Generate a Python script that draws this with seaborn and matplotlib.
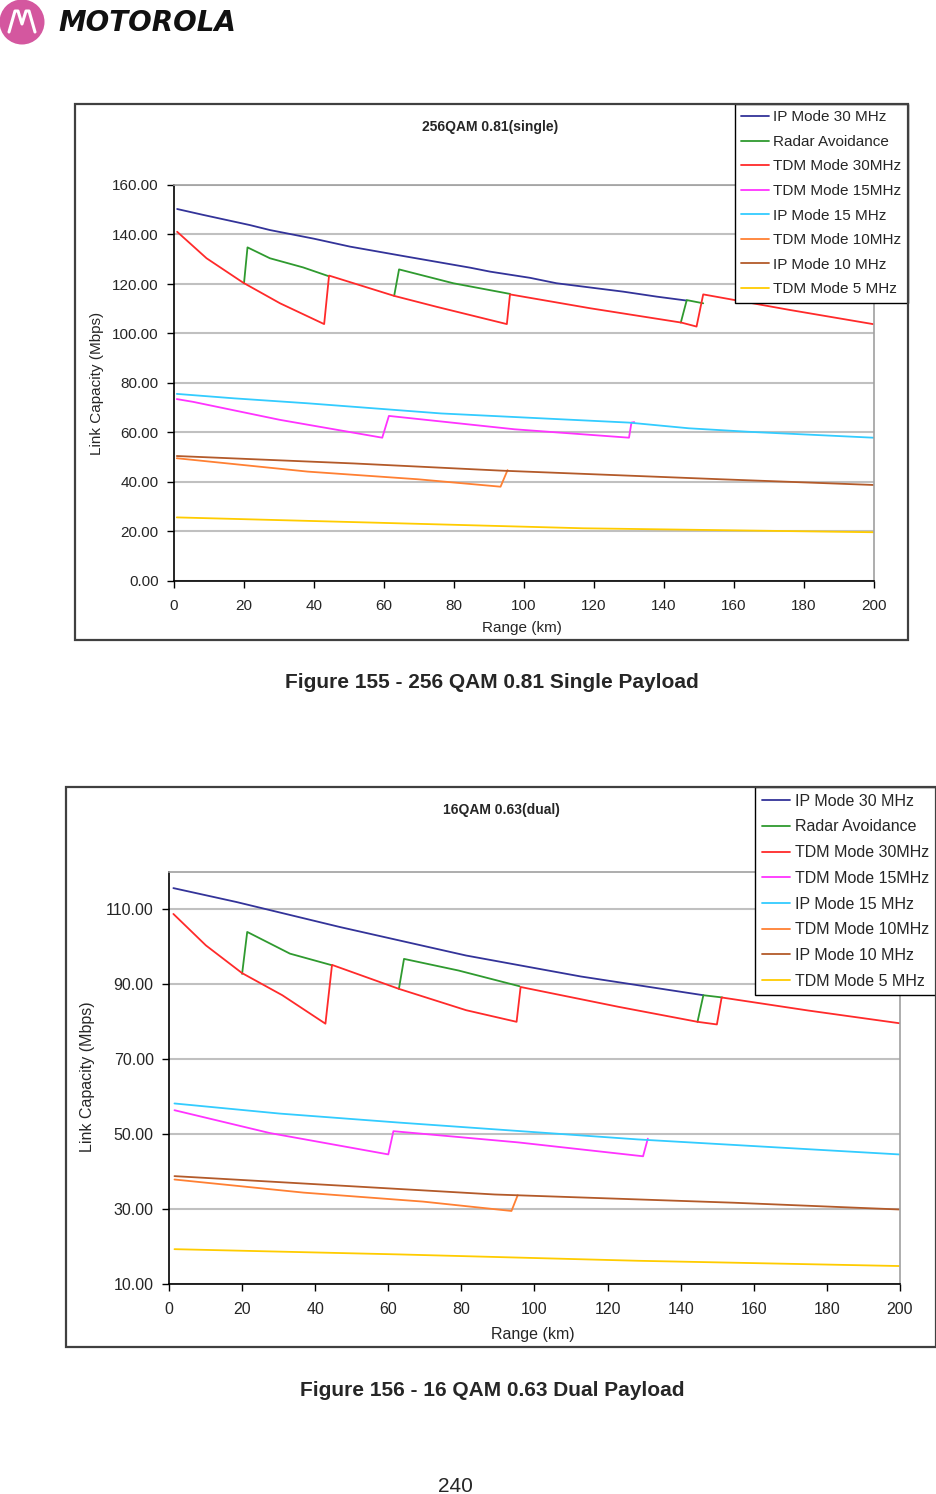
import matplotlib
matplotlib.use("Agg")
import matplotlib.pyplot as plt
import seaborn as sns
from matplotlib.patches import Rectangle, Ellipse
from matplotlib.lines import Line2D


# series names / colours (same order as the legend)
names = ["IP Mode 30 MHz", "Radar Avoidance", "TDM Mode 30MHz", "TDM Mode 15MHz",
         "IP Mode 15 MHz", "TDM Mode 10MHz", "IP Mode 10 MHz", "TDM Mode 5 MHz"]
colors = ["#333399", "#2f9a2f", "#ff2a2a", "#ff33ff",
          "#33ccff", "#ff8033", "#b35a2a", "#ffcc00"]

# ---- Figure 155: 256QAM 0.81 (single) ----
s_ip30_km = [0.9, 8.4, 21.7, 27.4, 40, 50.3, 65.5, 84.6, 90.3, 101.7, 109.3, 128.4, 137.9, 146.5]
s_ip30 = [150.3, 147.9, 143.8, 141.8, 138.3, 135.1, 131.3, 126.6, 125.0, 122.5, 120.3, 116.9, 114.9, 113.3]
s_radar_km = [[20, 21, 27.4, 36.9, 44.1], [62.9, 64.3, 79.8, 96], [144.8, 146.5, 151.2]]
s_radar = [[120.3, 134.8, 130.4, 126.7, 123.2], [115.2, 125.9, 120.3, 116.0], [104.4, 113.5, 112.2]]
s_tdm30_km = [0.9, 9.3, 19.8, 30.3, 42.9, 44.3, 62.9, 75, 95.1, 96, 118.9, 145, 149.3, 151.2, 176, 199.7]
s_tdm30 = [141.1, 130.4, 120.5, 112.2, 103.8, 123.4, 115.2, 110.8, 103.8, 115.8, 110.2, 104.4, 102.8, 115.8, 109.5, 103.8]
s_tdm15_km = [0.8, 5.4, 30.3, 59.5, 61.4, 97.3, 130, 130.7, 131.5]
s_tdm15 = [73.5, 72.4, 65.1, 57.9, 66.7, 61.3, 57.9, 64.0, 64.2]
s_ip15_km = [0.8, 17.2, 38.2, 76.3, 130, 147.1, 164, 199.8]
s_ip15 = [75.6, 73.8, 71.8, 67.7, 64.0, 61.7, 60.3, 57.9]
s_tdm10_km = [0.8, 38.2, 69.7, 93.3, 95.3]
s_tdm10 = [49.6, 44.2, 41.1, 38.1, 44.8]
s_ip10_km = [0.8, 51.3, 93.3, 156.3, 199.8]
s_ip10 = [50.5, 47.5, 44.6, 41.1, 38.8]
s_tdm5_km = [0.8, 56.6, 116.9, 199.8]
s_tdm5 = [25.7, 23.6, 21.3, 19.7]

# ---- Figure 156: 16QAM 0.63 (dual) ----
d_ip30_km = [1.2, 18.4, 46.8, 81.3, 112.7, 146.2]
d_ip30 = [115.7, 112.0, 105.3, 97.7, 92.1, 87.1]
d_radar_km = [[20, 21.4, 33.1, 44.6], [62.9, 64.3, 79.2, 95.9], [144.6, 146.2, 151.4]]
d_radar = [[92.8, 104.0, 98.2, 95.1], [88.8, 96.8, 93.7, 89.5], [80.0, 87.1, 86.5]]
d_tdm30_km = [1.2, 10.1, 20, 31, 42.8, 44.6, 62.9, 81.3, 95.1, 96.2, 123, 144.6, 149.9, 151.2, 175, 200]
d_tdm30 = [108.8, 100.4, 93.0, 87.1, 79.5, 95.2, 88.8, 83.1, 80.0, 89.3, 84.0, 80.0, 79.3, 86.5, 83.0, 79.6]
d_tdm15_km = [1.5, 27.6, 60, 61.4, 95.6, 129.7, 131]
d_tdm15 = [56.4, 50.3, 44.6, 50.8, 47.8, 44.1, 48.8]
d_ip15_km = [1.5, 30.3, 62.9, 128.3, 199.7]
d_ip15 = [58.2, 55.5, 53.1, 48.6, 44.6]
d_tdm10_km = [1.5, 36.8, 69.5, 93.7, 95.4]
d_tdm10 = [37.9, 34.4, 32.0, 29.5, 33.7]
d_ip10_km = [1.5, 49.9, 89.1, 154.5, 199.7]
d_ip10 = [38.8, 36.1, 33.9, 31.7, 29.9]
d_tdm5_km = [1.5, 62.9, 128.3, 199.7]
d_tdm5 = [19.3, 17.9, 16.2, 14.8]

single = [(s_ip30_km, s_ip30), (s_radar_km, s_radar), (s_tdm30_km, s_tdm30), (s_tdm15_km, s_tdm15),
          (s_ip15_km, s_ip15), (s_tdm10_km, s_tdm10), (s_ip10_km, s_ip10), (s_tdm5_km, s_tdm5)]
dual = [(d_ip30_km, d_ip30), (d_radar_km, d_radar), (d_tdm30_km, d_tdm30), (d_tdm15_km, d_tdm15),
        (d_ip15_km, d_ip15), (d_tdm10_km, d_tdm10), (d_ip10_km, d_ip10), (d_tdm5_km, d_tdm5)]

W, H = 937, 1494
FONT = ["Liberation Sans", "DejaVu Sans"]


def fx(x):
    return x / W


def fy(y):
    return 1 - y / H


sns.set_style("white")
plt.rcParams["font.family"] = FONT

fig = plt.figure(figsize=(W / 100, H / 100), dpi=100)


def draw_chart(box, plot, series, ylim, yticks, title, title_xy, ylab_xy, xlab_xy, leg_xy, fs, leg_sp):
    # outer chart frame
    bx0, by0, bx1, by1 = box
    fig.add_artist(Rectangle((fx(bx0), fy(by1)), (bx1 - bx0) / W, (by1 - by0) / H,
                             transform=fig.transFigure, fill=False, ec="#404040", lw=1.6))
    px0, py0, px1, py1 = plot
    ax = fig.add_axes([fx(px0), fy(py1), (px1 - px0) / W, (py1 - py0) / H])

    for name, color, (km, val) in zip(names, colors, series):
        segs = zip(km, val) if isinstance(km[0], list) else [(km, val)]
        for i, (k, v) in enumerate(segs):
            kw = {"label": name} if i == 0 else {}
            sns.lineplot(x=k, y=v, color=color, lw=1.3, sort=False, estimator=None, ax=ax, **kw)

    ax.set_xlim(0, 200)
    ax.set_ylim(*ylim)
    ax.set_xticks(range(0, 201, 20))
    ax.set_yticks(yticks)
    ax.set_yticklabels([f"{t:.2f}" for t in yticks])
    ax.yaxis.grid(True, color="#c0c0c0", lw=1.5)
    ax.xaxis.grid(False)
    ax.set_axisbelow(True)
    for side in ["left", "bottom"]:
        ax.spines[side].set_color("black")
        ax.spines[side].set_linewidth(1.2)
    for side in ["top", "right"]:
        ax.spines[side].set_color("#a0a0a0")
        ax.spines[side].set_linewidth(1.2)
    ax.tick_params(axis="both", direction="out", length=5, width=1, color="black",
                   labelsize=fs, left=True, bottom=True)
    ax.tick_params(axis="x", pad=8)
    ax.tick_params(axis="y", pad=6)

    fig.text(fx(title_xy[0]), fy(title_xy[1]), title, ha="center", va="center",
             fontsize=10, fontweight="bold")
    fig.text(fx(ylab_xy[0]), fy(ylab_xy[1]), "Link Capacity (Mbps)", ha="center", va="center",
             rotation=90, fontsize=fs)
    fig.text(fx(xlab_xy[0]), fy(xlab_xy[1]), "Range (km)", ha="center", va="center", fontsize=fs)

    leg = ax.legend(loc="upper left", bbox_to_anchor=(fx(leg_xy[0]), fy(leg_xy[1])),
                    bbox_transform=fig.transFigure, borderaxespad=0, fontsize=fs,
                    frameon=True, fancybox=False, framealpha=1, edgecolor="black",
                    handlelength=1.8, handletextpad=0.3, labelspacing=leg_sp, borderpad=0.42)
    leg.get_frame().set_linewidth(1.0)
    return ax


draw_chart((75, 104, 908, 640), (174, 185, 874, 581), single, (0, 160), list(range(0, 161, 20)),
           "256QAM 0.81(single)", (490, 127), (97, 383), (522, 628), (735, 104), 11, 0.69)
draw_chart((66, 787, 936, 1347), (169, 872, 900, 1284), dual, (10, 120), list(range(10, 111, 20)),
           "16QAM 0.63(dual)", (501, 810), (88, 1077), (533, 1334), (755, 787), 11.5, 0.67)

# captions and page number
fig.text(fx(492), fy(683), "Figure 155 - 256 QAM 0.81 Single Payload", ha="center", va="center",
         fontsize=15, fontweight="bold")
fig.text(fx(492), fy(1390), "Figure 156 - 16 QAM 0.63 Dual Payload", ha="center", va="center",
         fontsize=15, fontweight="bold")
fig.text(fx(455), fy(1486), "240", ha="center", va="center", fontsize=15)

# header logo
fig.add_artist(Ellipse((fx(22), fy(22)), 45 / W, 45 / H, transform=fig.transFigure,
                       fc="#d4579f", ec="none"))
fig.add_artist(Line2D([fx(9), fx(15), fx(18), fx(22), fx(26), fx(29), fx(35)],
                      [fy(32), fy(11), fy(11), fy(24), fy(11), fy(11), fy(32)],
                      transform=fig.transFigure, color="white", lw=2.2))
fig.text(fx(58), fy(23), "MOTOROLA", ha="left", va="center", fontsize=20,
         fontweight="bold", fontstyle="italic", color="#111111", family=["DejaVu Sans"])

fig.savefig("out.png", dpi=100)
